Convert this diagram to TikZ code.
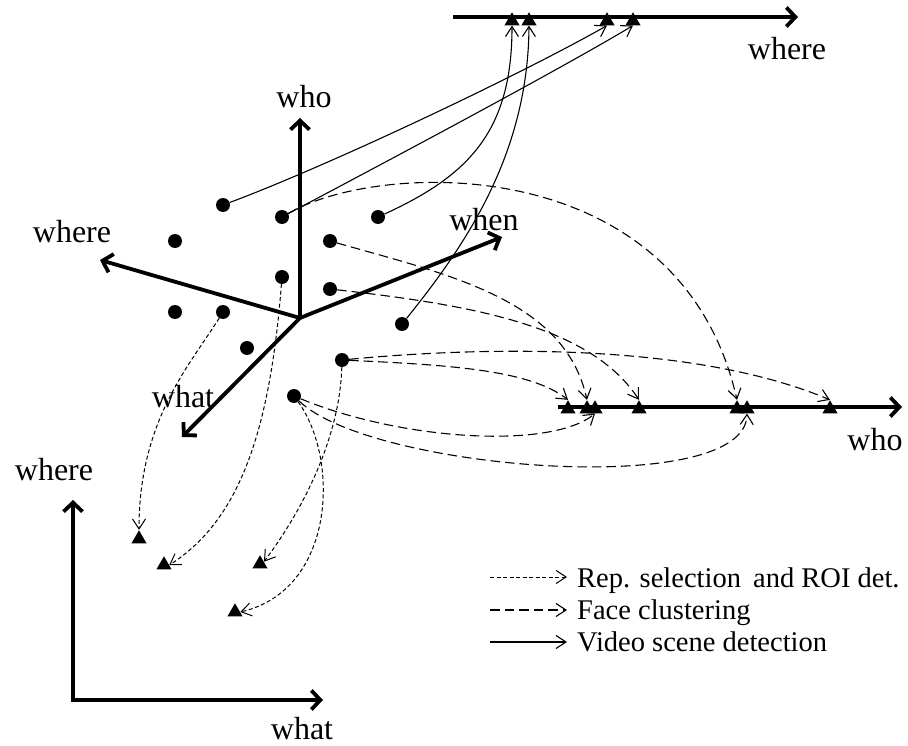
\documentclass[tikz,border=0pt]{standalone}
\usepackage{fontspec}
\setmainfont{Liberation Serif}
\usetikzlibrary{arrows.meta,shapes.geometric}

\tikzset{
  axis/.style={line width=3.8pt, line join=miter, -{Straight Barb[length=9pt,width=19pt]}},
  sample/.style={circle, fill, inner sep=0pt, minimum size=14pt},
  tri/.style={regular polygon, regular polygon sides=3, fill, inner sep=0pt, minimum size=17.5pt},
  scene/.style={line width=1.1pt, -{Straight Barb[length=10pt,width=13pt]}},
  face/.style={scene, dash pattern=on 9.5pt off 5pt},
  rep/.style={line width=1pt, dash pattern=on 4pt off 2.5pt, -{Straight Barb[length=10pt,width=13pt]}},
  lbl/.style={font=\fontsize{32}{38}\selectfont, inner sep=0pt},
  leg/.style={font=\fontsize{28.5}{34}\selectfont, anchor=base west, inner sep=0pt}
}

\begin{document}
\begin{tikzpicture}[x=1pt,y=-1pt]
\path[use as bounding box] (0,0) rectangle (908,746);

% ---------- 3-D feature space ----------
\coordinate (O) at (300,318);
\coordinate (Awho) at (300,118);
\coordinate (Awhere) at (100,260);
\coordinate (Awhen) at (502,237);
\coordinate (Awhat) at (182,437);
\draw[axis] (O) -- (Awho);
\draw[axis] (O) -- (Awhere);
\draw[axis] (O) -- (Awhen);
\draw[axis] (O) -- (Awhat);
\node[lbl] (Lwho) at (304,97) {who};
\node[lbl] (Lwhere) at (72,232) {where};
\node[lbl] (Lwhen) at (484,220) {when};
\node[lbl] (Lwhat) at (183,397) {what};

% ---------- "where" line (top) ----------
\coordinate (Wa) at (453,17);
\coordinate (Wb) at (798,17);
\draw[axis] (Wa) -- (Wb);
\node[lbl] (LWtop) at (787,49) {where};

% ---------- "who" line (right) ----------
\coordinate (Ha) at (558,407);
\coordinate (Hb) at (902,407);
\draw[axis] (Ha) -- (Hb);
\node[lbl] (LHright) at (875,440) {who};

% ---------- what/where plane (bottom left) ----------
\coordinate (Bv) at (73,500);
\coordinate (Bo) at (73,700);
\coordinate (Bh) at (323,700);
\draw[axis, {Straight Barb[length=9pt,width=19pt]}-{Straight Barb[length=9pt,width=19pt]}] (Bv) -- (Bo) -- (Bh);
\node[lbl] (LBwhere) at (54,470) {where};
\node[lbl] (LBwhat) at (302,729) {what};

% ---------- samples ----------
\node[sample] (d1) at (223,205) {};
\node[sample] (d2) at (282,217) {};
\node[sample] (d3) at (378,217) {};
\node[sample] (d4) at (175,241) {};
\node[sample] (d5) at (330,241) {};
\node[sample] (d6) at (282,277) {};
\node[sample] (d7) at (330,289) {};
\node[sample] (d8) at (175,312) {};
\node[sample] (d9) at (223,312) {};
\node[sample] (d10) at (402,324) {};
\node[sample] (d11) at (247,348) {};
\node[sample] (d12) at (342,360) {};
\node[sample] (d13) at (294,396) {};

% ---------- projections ----------
\node[tri] (tw1) at (512,21) {};
\node[tri] (tw2) at (529,21) {};
\node[tri] (tw3) at (607,21) {};
\node[tri] (tw4) at (633,21) {};

\node[tri] (th1) at (568,409) {};
\node[tri] (th2) at (587,409) {};
\node[tri] (th3) at (595,409) {};
\node[tri] (th4) at (639,409) {};
\node[tri] (th5) at (737,409) {};
\node[tri] (th6) at (747,409) {};
\node[tri] (th7) at (830,409) {};

\node[tri] (tb1) at (139,539) {};
\node[tri] (tb2) at (164,565) {};
\node[tri] (tb3) at (260,564) {};
\node[tri] (tb4) at (235,612) {};

% ---------- video scene detection ----------
\draw[scene] (d1) .. controls (330,165) and (520,75) .. (tw3.south);
\draw[scene] (d2) .. controls (380,165) and (550,75) .. (tw4.south);
\draw[scene] (d3) .. controls (470,175) and (512,130) .. (tw1.south);
\draw[scene] (d10) .. controls (470,240) and (528,150) .. (tw2.south);

% ---------- face clustering ----------
\draw[face] (d2) .. controls (380,160) and (680,150) .. (th5.north);
\draw[face] (d5) .. controls (450,275) and (565,300) .. (th2.north);
\draw[face] (d7) .. controls (470,305) and (590,325) .. (th4.north);
\draw[face] (d12) .. controls (450,365) and (530,370) .. (th1.north);
\draw[face] (d12) .. controls (500,345) and (700,345) .. (th7.north);
\draw[face] (d13) .. controls (400,440) and (550,450) .. (th3.south);
\draw[face] (d13) .. controls (370,470) and (745,500) .. (th6.south);

% ---------- representative selection and ROI detection ----------
\draw[rep] (d9) .. controls (190,365) and (139,420) .. (tb1.north);
\draw[rep] (d6) .. controls (270,430) and (240,520) .. (tb2.east);
\draw[rep] (d12) .. controls (340,430) and (310,500) .. (tb3.30);
\draw[rep] (d13) .. controls (340,460) and (335,590) .. (tb4.east);

% ---------- legend ----------
\coordinate (k1a) at (490,577);
\coordinate (k1b) at (567,577);
\coordinate (k2a) at (490,610);
\coordinate (k2b) at (567,610);
\coordinate (k3a) at (490,642);
\coordinate (k3b) at (567,642);
\draw[rep] (k1a) -- (k1b);
\draw[face] (k2a) -- (k2b);
\draw[scene] (k3a) -- (k3b);
\node[leg] (t1) at (577,587) {Rep. selection\hspace{5pt} and ROI det.};
\node[leg] (t2) at (577,619) {Face clustering};
\node[leg] (t3) at (577,651) {Video scene detection};
\end{tikzpicture}
\end{document}
